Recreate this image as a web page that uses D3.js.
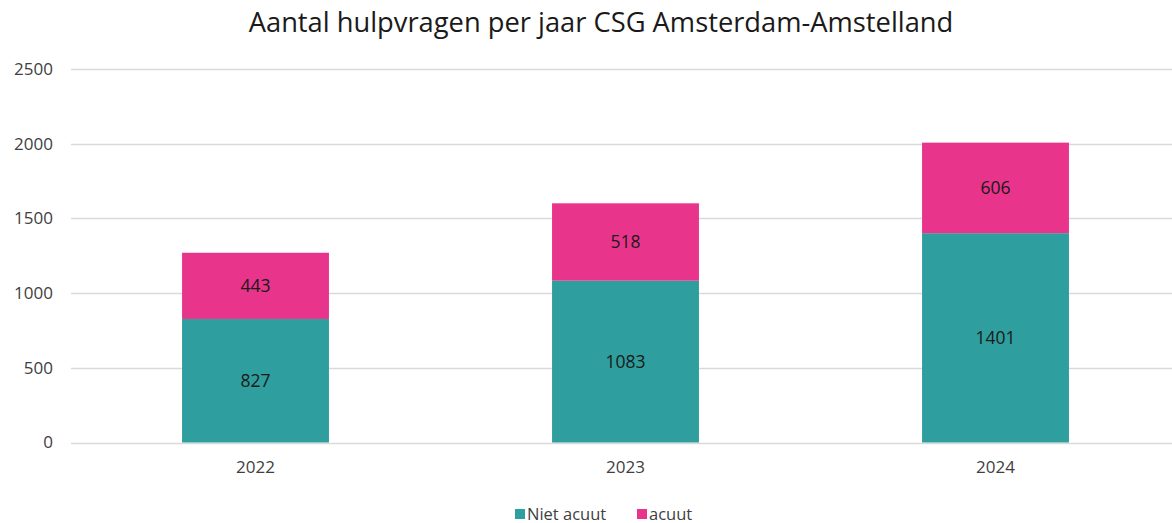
<!DOCTYPE html>
<html><head><meta charset="utf-8">
<script src="https://cdn.jsdelivr.net/npm/d3@7"></script>
<style>body{margin:0;background:#fff}svg{display:block}text{font-family:"Open Sans",sans-serif}</style>
</head><body>
<svg id="c" width="1172" height="523"></svg>
<script>
const title = "Aantal hulpvragen per jaar CSG Amsterdam-Amstelland";
const categories = ["2022","2023","2024"];
const nietAcuut = [827,1083,1401];
const acuut = [443,518,606];
const seriesNames = ["Niet acuut","acuut"];
const seriesColors = ["#2E9E9E","#E8348A"];
const yTicks = [0,500,1000,1500,2000,2500];

const svg = d3.select("#c");
const x = d3.scaleBand().domain(categories).range([70.5,1180.5]).paddingInner(0.603).paddingOuter(0.3015);
const y = d3.scaleLinear().domain([0,2500]).range([442.5,69]);

svg.append("text").attr("x",601).attr("y",32).attr("text-anchor","middle")
  .attr("font-size",27.3).attr("fill","#1a1a1a").text(title);

// gridlines
svg.append("g").selectAll("line").data(yTicks).join("line")
  .attr("x1",71).attr("x2",1172).attr("y1",d=>Math.round(y(d))+0.5).attr("y2",d=>Math.round(y(d))+0.5)
  .attr("stroke","#d9d9d9").attr("stroke-width",1.5);

// y axis labels
const ya = svg.append("g").attr("transform","translate(62,0)")
  .call(d3.axisLeft(y).tickValues(yTicks).tickSize(0).tickPadding(9).tickFormat(d3.format("d")));
ya.select(".domain").remove();
ya.selectAll("text").attr("font-size",17).attr("fill","#404040").attr("font-family","'Open Sans',sans-serif");

// x axis labels
const xa = svg.append("g").attr("transform","translate(0,452)")
  .call(d3.axisBottom(x).tickSize(0).tickPadding(9));
xa.select(".domain").remove();
xa.selectAll("text").attr("font-size",17).attr("fill","#404040").attr("font-family","'Open Sans',sans-serif");

const rows = categories.map((c,i)=>({cat:c, "Niet acuut":nietAcuut[i], "acuut":acuut[i]}));
const stacked = d3.stack().keys(seriesNames)(rows);

const g = svg.append("g");
stacked.forEach((s,si)=>{
  g.selectAll(null).data(s).join("rect")
    .attr("x",d=>x(d.data.cat)).attr("width",x.bandwidth())
    .attr("y",d=>y(d[1])).attr("height",d=>y(d[0])-y(d[1]))
    .attr("fill",seriesColors[si]);
  g.selectAll(null).data(s).join("text")
    .attr("x",d=>x(d.data.cat)+x.bandwidth()/2)
    .attr("y",d=>(y(d[0])+y(d[1]))/2)
    .attr("dy","0.35em").attr("text-anchor","middle").attr("font-size",17.5).attr("fill","#1a1a1a")
    .text(d=>d[1]-d[0]);
});

// legend
const leg = svg.append("g");
const items = [{n:seriesNames[0],c:seriesColors[0],x:515},{n:seriesNames[1],c:seriesColors[1],x:637}];
items.forEach(it=>{
  leg.append("rect").attr("x",it.x).attr("y",509).attr("width",10).attr("height",10).attr("fill",it.c);
  leg.append("text").attr("x",it.x+12).attr("y",519.5).attr("font-size",16.5).attr("fill","#404040").text(it.n);
});
</script>
</body></html>
